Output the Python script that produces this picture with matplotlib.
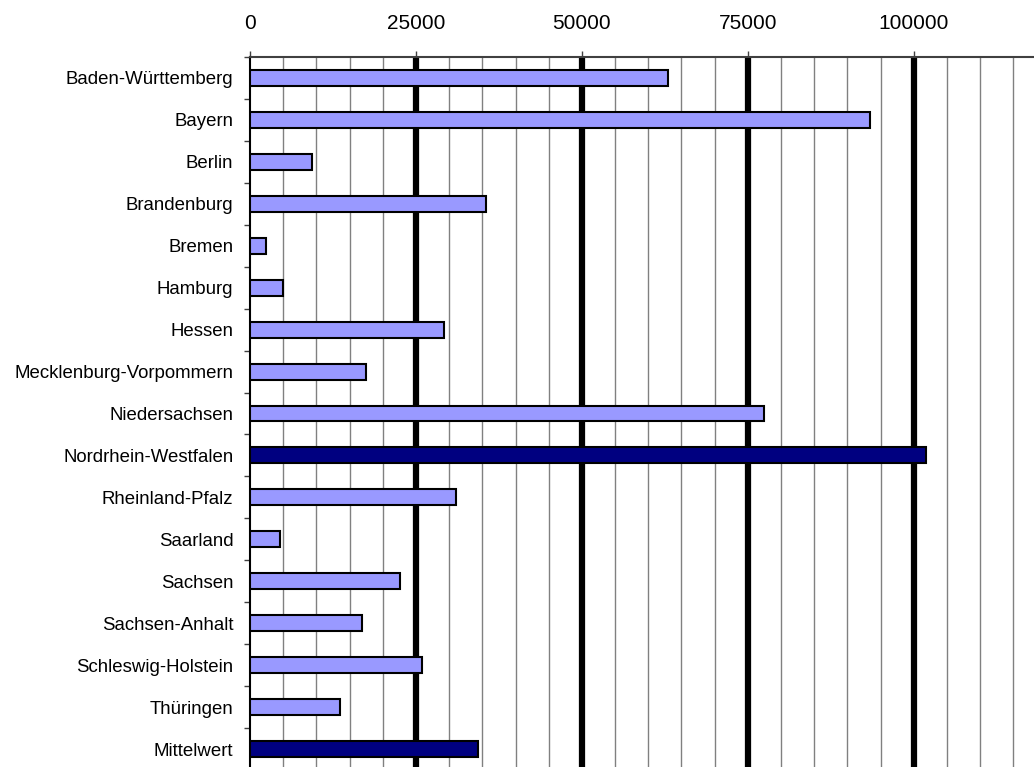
import matplotlib
matplotlib.use("Agg")
import matplotlib.pyplot as plt
from matplotlib.ticker import MultipleLocator, FixedLocator
import numpy as np

plt.rcParams['font.family'] = ['Liberation Sans', 'DejaVu Sans']

laender = ["Baden-Württemberg", "Bayern", "Berlin", "Brandenburg", "Bremen",
           "Hamburg", "Hessen", "Mecklenburg-Vorpommern", "Niedersachsen",
           "Nordrhein-Westfalen", "Rheinland-Pfalz", "Saarland", "Sachsen",
           "Sachsen-Anhalt", "Schleswig-Holstein", "Thüringen", "Mittelwert"]
werte = [62950, 93400, 9340, 35540, 2410, 4970, 29220, 17470, 77410,
         101800, 31020, 4520, 22590, 16870, 25900, 13550, 34300]
hervorgehoben = ["Nordrhein-Westfalen", "Mittelwert"]

hell = "#9999ff"
dunkel = "#000080"

fig = plt.figure(figsize=(10.34, 7.67), dpi=100)
ax = fig.add_axes([250 / 1034, -3 / 767, 1 - 250 / 1034, (770 - 57) / 767])

y = np.arange(len(laender))
farben = [dunkel if l in hervorgehoben else hell for l in laender]
ax.barh(y, werte, height=0.38, color=farben, edgecolor="black",
        linewidth=1.5, zorder=3)

ax.set_ylim(len(laender) - 0.5, -0.5)
ax.set_xlim(0, 118100)

# duenne Gitterlinien alle 5000, dicke bei den Hauptmarken
ax.xaxis.set_minor_locator(MultipleLocator(5000))
ax.xaxis.set_major_locator(MultipleLocator(25000))
ax.grid(which="minor", axis="x", color="#808080", linewidth=1.0, zorder=0)
for t in range(25000, 118100, 25000):
    ax.axvline(t, color="black", linewidth=4.5, zorder=1)

ax.xaxis.tick_top()
ax.tick_params(axis="x", which="major", direction="out", length=4,
               width=1, color="#404040", pad=13.5, labelsize=15)
ax.tick_params(axis="x", which="minor", length=0)

ax.set_yticks(y)
ax.set_yticklabels(laender)
ax.yaxis.set_minor_locator(FixedLocator(np.arange(len(laender) + 1) - 0.5))
ax.tick_params(axis="y", which="major", length=0, pad=12, labelsize=13.4)
ax.tick_params(axis="y", which="minor", direction="out", length=4,
               width=1, color="#404040")

for s in ["right", "bottom"]:
    ax.spines[s].set_visible(False)
ax.spines["top"].set_color("#404040")
ax.spines["top"].set_linewidth(1.5)
ax.spines["left"].set_color("black")
ax.spines["left"].set_linewidth(1.5)

fig.savefig("out.png", dpi=100)
